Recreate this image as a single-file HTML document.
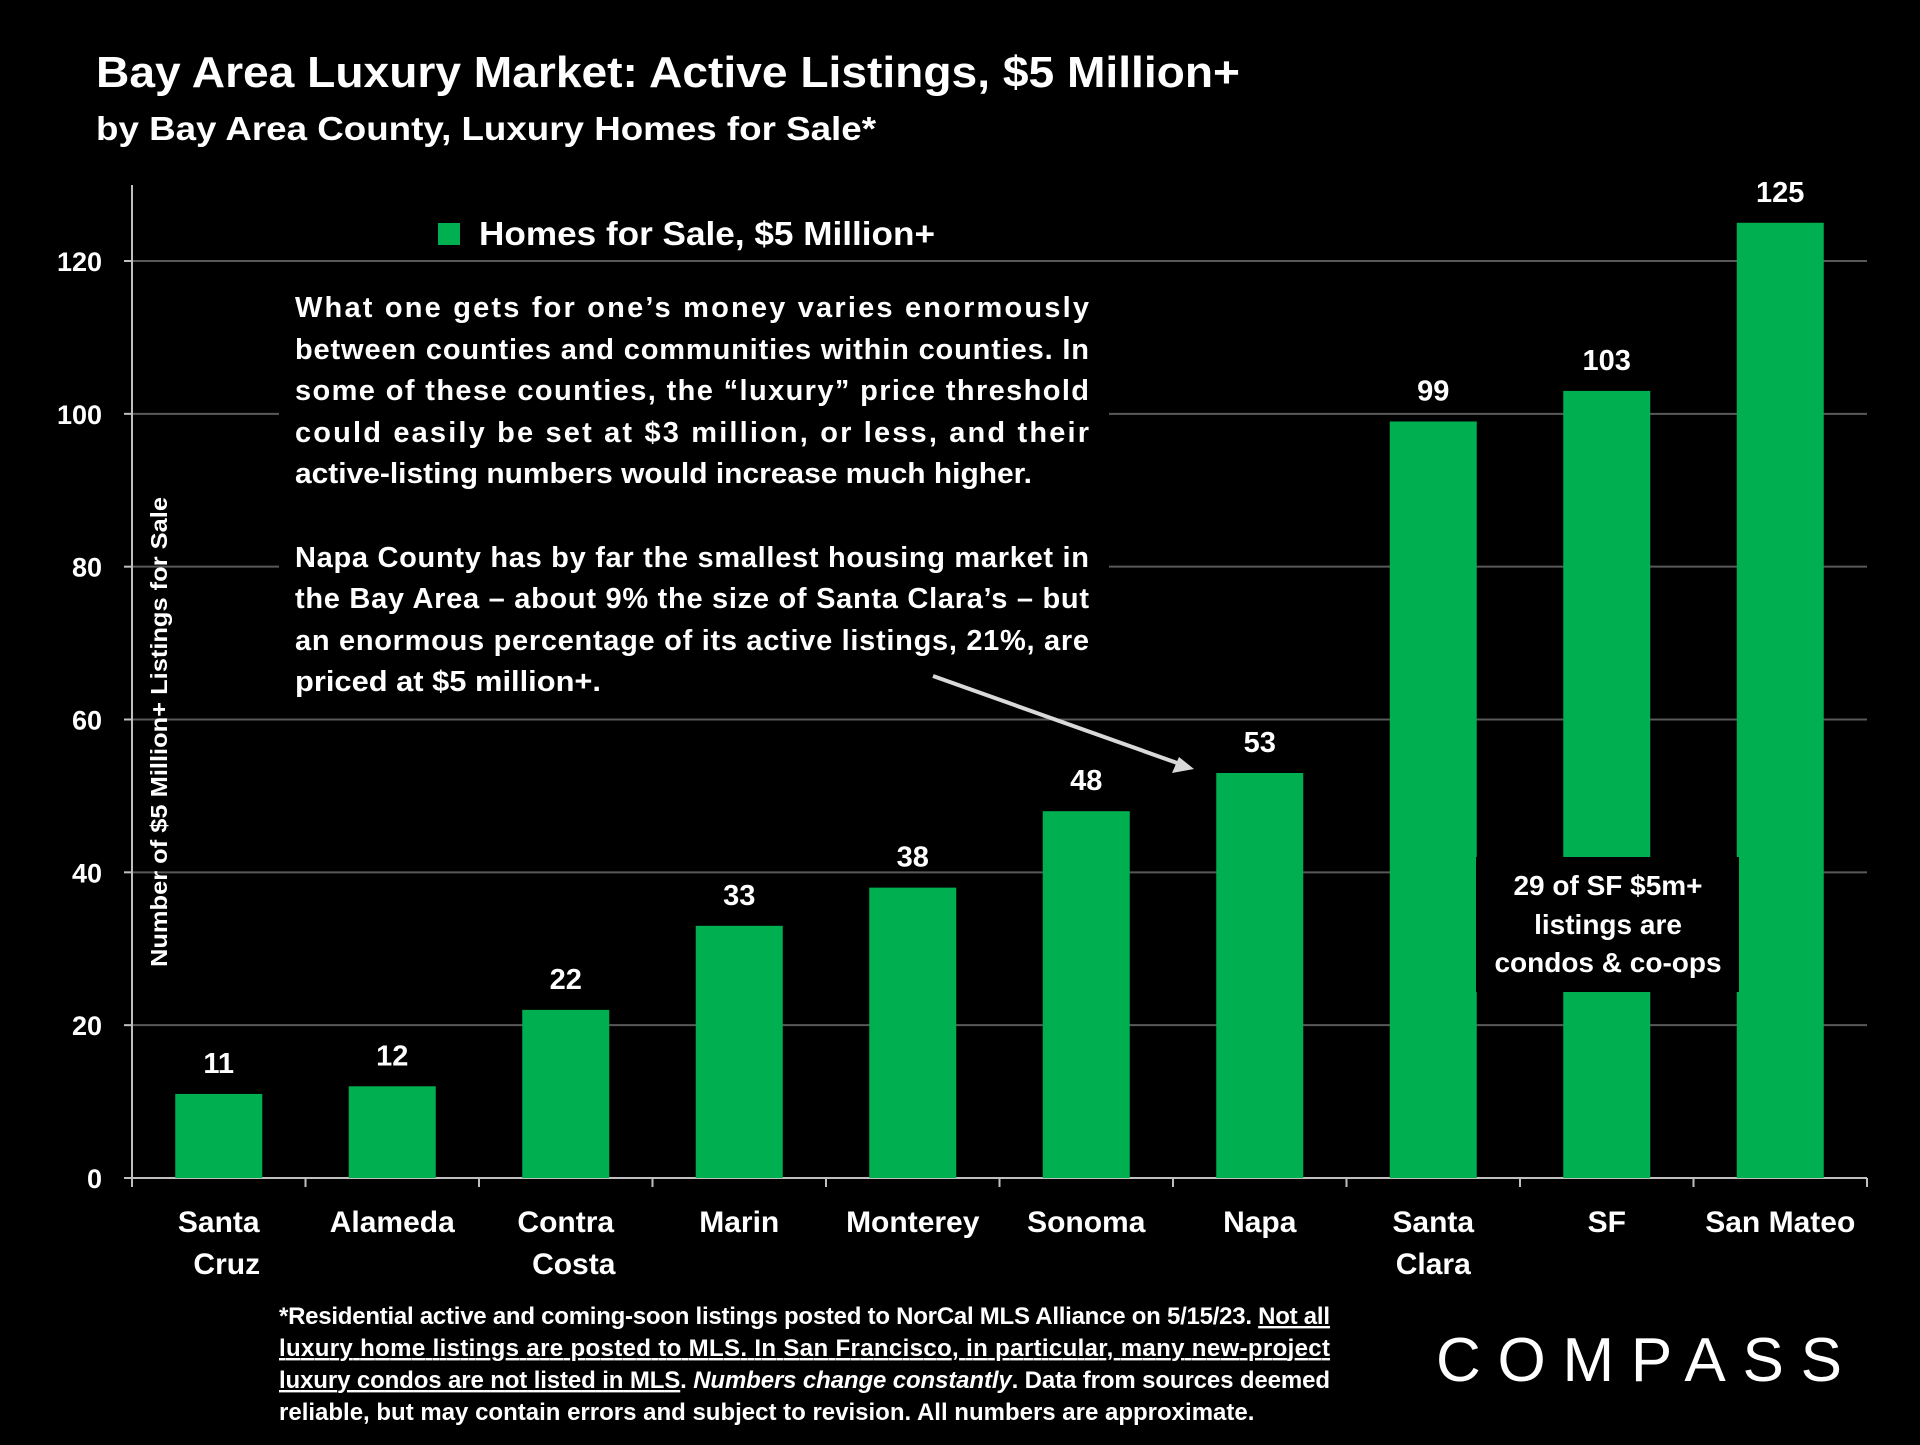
<!DOCTYPE html>
<html><head><meta charset="utf-8"><style>
body{margin:0;background:#000;width:1920px;height:1440px;overflow:hidden;font-family:"Liberation Sans",sans-serif;color:#fff}
</style></head><body>
<svg id="c" width="1920" height="1440" xmlns="http://www.w3.org/2000/svg" style="font-family:'Liberation Sans',sans-serif;font-weight:bold">
<text x="96" y="87" font-size="44" fill="#fff" textLength="1144" lengthAdjust="spacingAndGlyphs">Bay Area Luxury Market: Active Listings, $5 Million+</text>
<text x="96" y="140" font-size="33" fill="#fff" textLength="780" lengthAdjust="spacingAndGlyphs">by Bay Area County, Luxury Homes for Sale*</text>
<g id="grid"></g>
<g id="bars"></g>
<rect x="279" y="282" width="830" height="422" fill="#000"/>
<rect x="438" y="223" width="22" height="22" fill="#00b050"/>
<text x="479" y="245" font-size="33" fill="#fff" textLength="456" lengthAdjust="spacingAndGlyphs">Homes for Sale, $5 Million+</text>
<g font-size="29" fill="#fff">
<text x="295" y="317" textLength="794" lengthAdjust="spacing">What one gets for one’s money varies enormously</text>
<text x="295" y="359" textLength="794" lengthAdjust="spacing">between counties and communities within counties. In</text>
<text x="295" y="400" textLength="794" lengthAdjust="spacing">some of these counties, the “luxury” price threshold</text>
<text x="295" y="442" textLength="794" lengthAdjust="spacing">could easily be set at $3 million, or less, and their</text>
<text x="295" y="483" textLength="737" lengthAdjust="spacingAndGlyphs">active-listing numbers would increase much higher.</text>
<text x="295" y="567" textLength="794" lengthAdjust="spacing">Napa County has by far the smallest housing market in</text>
<text x="295" y="608" textLength="794" lengthAdjust="spacing">the Bay Area – about 9% the size of Santa Clara’s – but</text>
<text x="295" y="650" textLength="794" lengthAdjust="spacing">an enormous percentage of its active listings, 21%, are</text>
<text x="295" y="691" textLength="306" lengthAdjust="spacingAndGlyphs">priced at $5 million+.</text>
</g>
<line x1="933" y1="676" x2="1180" y2="764" stroke="#d9d9d9" stroke-width="4"/>
<polygon points="1194,769 1172,773 1179,757" fill="#d9d9d9"/>
<rect x="1476" y="857" width="263" height="135" fill="#000"/>
<g font-size="28" fill="#fff" text-anchor="middle">
<text x="1608" y="895">29 of SF $5m+</text><text x="1608" y="934">listings are</text><text x="1608" y="972">condos &amp; co-ops</text></g>
<text transform="translate(167,732) rotate(-90)" text-anchor="middle" font-size="23" fill="#fff" textLength="470" lengthAdjust="spacingAndGlyphs">Number of $5 Million+ Listings for Sale</text>
<g font-size="24" fill="#fff">
<text x="279" y="1324" textLength="1051" lengthAdjust="spacing">*Residential active and coming-soon listings posted to NorCal MLS Alliance on 5/15/23. <tspan text-decoration="underline">Not all</tspan></text>
<text x="279" y="1356" textLength="1051" lengthAdjust="spacing" text-decoration="underline">luxury home listings are posted to MLS. In San Francisco, in particular, many new-project</text>
<text x="279" y="1388" textLength="1051" lengthAdjust="spacing"><tspan text-decoration="underline">luxury condos are not listed in MLS</tspan>. <tspan font-style="italic">Numbers change constantly</tspan>. Data from sources deemed</text>
<text x="279" y="1420">reliable, but may contain errors and subject to revision. All numbers are approximate.</text>
</g>
<text x="1436" y="1381" font-size="62" font-weight="normal" textLength="406" lengthAdjust="spacing" fill="#fff">COMPASS</text>
</svg>
<script>
const categories=[["Santa","Cruz"],["Alameda"],["Contra","Costa"],["Marin"],["Monterey"],["Sonoma"],["Napa"],["Santa","Clara"],["SF"],["San Mateo"]];
const values=[11,12,22,33,38,48,53,99,103,125];
const yTicks=[0,20,40,60,80,100,120];
const NS="http://www.w3.org/2000/svg";
const X0=132,X1=1867,Y0=1178,PER=(1178-261)/120;
const slot=(X1-X0)/categories.length,bw=87;
const y=v=>Y0-v*PER, xc=i=>X0+slot*(i+0.5);
function mk(t,a,p){const e=document.createElementNS(NS,t);for(const k in a)e.setAttribute(k,a[k]);p.appendChild(e);return e;}
const g=document.getElementById('grid'),b=document.getElementById('bars');
yTicks.forEach(t=>{
 if(t>0){const l=mk('line',{x1:X0,x2:X1,y1:y(t),y2:y(t),stroke:'#595959','stroke-width':2},g);
 
 }
 const tk=mk('line',{x1:X0-8,x2:X0,y1:y(t),y2:y(t),stroke:'#bfbfbf','stroke-width':2},g);
 
 
 const tx=mk('text',{x:X0-30,y:y(t)+10,'text-anchor':'end','font-size':27,fill:'#fff'},g);tx.textContent=t;
 
 
});
const ax=mk('line',{x1:X0,x2:X0,y1:185,y2:Y0,stroke:'#bfbfbf','stroke-width':2},g);


const xa=mk('line',{x1:X0,x2:X1,y1:Y0,y2:Y0,stroke:'#bfbfbf','stroke-width':2},g);


for(let i=0;i<=categories.length;i++){const t=mk('line',{x1:X0+slot*i,x2:X0+slot*i,y1:Y0,y2:Y0+9,stroke:'#bfbfbf','stroke-width':2},g);
 
 }
values.forEach((v,i)=>{
 const r=mk('rect',{x:xc(i)-bw/2,y:y(v),width:bw,height:Y0-y(v),fill:'#00b050'},b);
 
 
 const t=mk('text',{x:xc(i),y:y(v)-21,'text-anchor':'middle','font-size':29,fill:'#fff'},b);t.textContent=v;
 
 
 categories[i].forEach((s,j)=>{const c=mk('text',{x:xc(i)+(j?8:0)*(categories[i].length>1&&i<3?1:0),y:1232+j*42,'text-anchor':'middle','font-size':30,fill:'#fff'},b);c.textContent=s;
 
 });
});
</script>
</body></html>
